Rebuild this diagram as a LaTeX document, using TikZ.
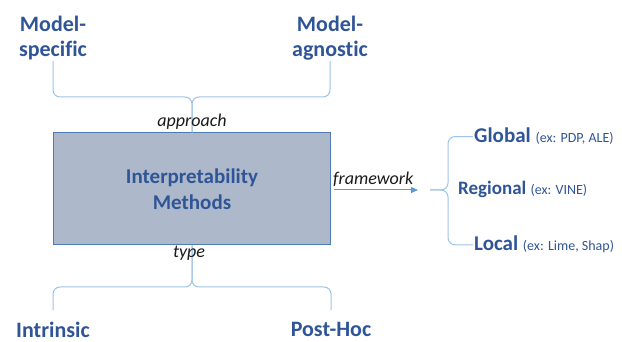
\documentclass[tikz,border=0pt]{standalone}
\usepackage{fontspec}
\setmainfont[Ligatures={NoCommon}]{Carlito}
\usepackage{xcolor}
\usetikzlibrary{arrows.meta}
\definecolor{bg}{HTML}{FFFFFF}
\definecolor{ink}{HTML}{2F5597}
\definecolor{boxfill}{HTML}{ADB9CA}
\definecolor{boxedge}{HTML}{4F7DB3}
\definecolor{bracec}{HTML}{9DC3E6}
\definecolor{arrowc}{HTML}{5B9BD5}
\definecolor{lbltext}{HTML}{1A1A1A}
\newcommand{\exfont}{\fontsize{14}{16}\selectfont\mdseries}
\tikzset{
  box/.style={draw=boxedge, fill=boxfill, line width=1pt, minimum width=277pt, minimum height=112pt,
    inner sep=0pt, align=center, text=ink, font=\fontsize{21}{26}\selectfont\bfseries},
  head/.style={text=ink, align=center, inner sep=1pt, font=\fontsize{22}{25}\selectfont\bfseries},
  headlow/.style={head, inner xsep=1pt, inner ysep=12pt},
  side/.style={text=ink, inner sep=1pt, font=\fontsize{21}{24}\selectfont\bfseries},
  lbl/.style={text=lbltext, inner sep=1pt, font=\fontsize{18}{20}\selectfont\itshape},
  brc/.style={draw=bracec, line width=1pt, rounded corners=7pt},
  arr/.style={draw=arrowc, line width=1pt, -{Triangle[length=7pt,width=6pt]}}
}
\begin{document}
\begin{tikzpicture}[x=1pt, y=-1pt]
  \useasboundingbox (0,0) rectangle (622,342);
  % main box
  \node[box] (imeth) at (192,189) {Interpretability\\Methods};
  % approach
  \node[head, anchor=south] (spec) at (53,61) {Model-\\specific};
  \node[head, anchor=south] (agn) at (330,61) {Model-\\agnostic};
  \coordinate (apx) at (192,97);
  \draw[brc] (spec.south) |- (apx) -- (imeth.north);
  \draw[brc] (agn.south) |- (apx) -- (imeth.north);
  \node[lbl, anchor=base] (appr) at (192,127) {approach};
  % type
  \node[headlow, anchor=north] (intr) at (53,310) {Intrinsic};
  \node[headlow, anchor=north] (posth) at (331,310) {Post-Hoc};
  \coordinate (tpx) at (192,287);
  \draw[brc] (intr.north) |- (tpx) -- (imeth.south);
  \draw[brc] (posth.north) |- (tpx) -- (imeth.south);
  \node[lbl, anchor=base] (typ) at (189,258) {type};
  % framework
  \coordinate (fwend) at (418,190);
  \draw[arr, shorten <=3pt] (imeth.east |- fwend) -- (fwend);
  \node[lbl, anchor=base west] (fw) at (332,185) {framework};
  \node[side, anchor=base west] (glob) at (473,143) {Global {\exfont (ex: PDP, ALE)}};
  \node[side, anchor=base west, font=\fontsize{19}{22}\selectfont\bfseries] (reg) at (457,195) {Regional {\exfont (ex: VINE)}};
  \node[side, anchor=base west] (loc) at (473,251) {Local {\exfont (ex: Lime, Shap)}};
  \coordinate (rb) at (448,190);
  \coordinate (rbin) at (430,190);
  \draw[brc] (glob.west) -| (rb) -- (rbin);
  \draw[brc] (loc.west) -| (rb) -- (rbin);
\end{tikzpicture}
\end{document}
